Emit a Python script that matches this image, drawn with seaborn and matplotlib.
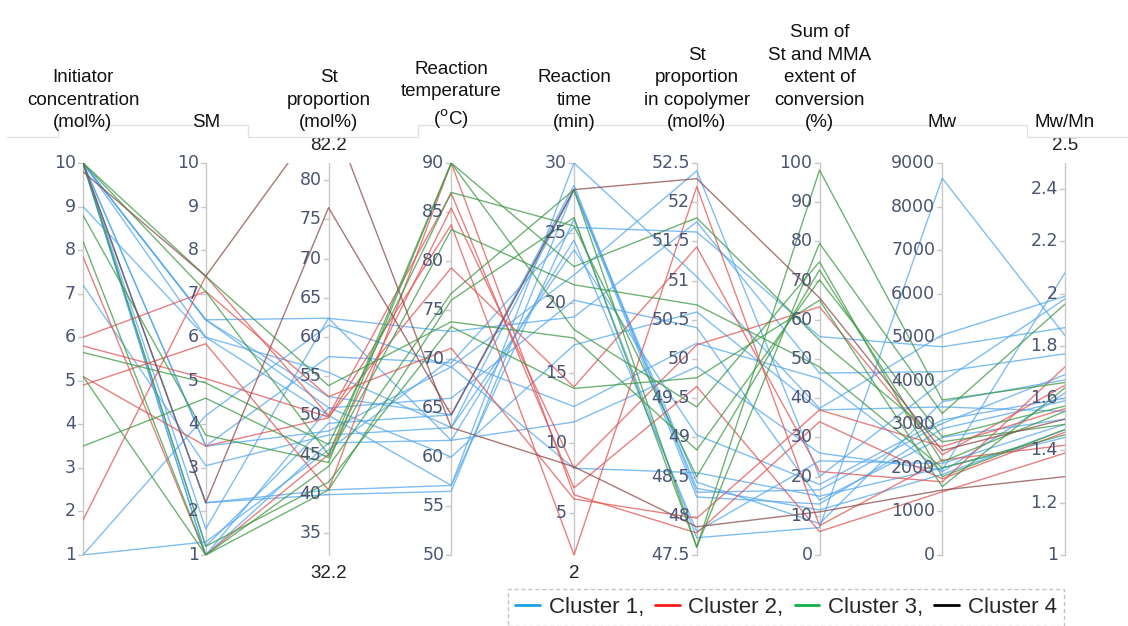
import numpy as np
import pandas as pd
import matplotlib
matplotlib.use("Agg")
import matplotlib.pyplot as plt
import seaborn as sns
from matplotlib.lines import Line2D

# axis definitions
axis_names = [
    "Initiator\nconcentration\n(mol%)",
    "SM",
    "St\nproportion\n(mol%)",
    "Reaction\ntemperature\n($^{\\mathrm{o}}$C)",
    "Reaction\ntime\n(min)",
    "St\nproportion\nin copolymer\n(mol%)",
    "Sum of\nSt and MMA\nextent of\nconversion\n(%)",
    "Mw",
    "Mw/Mn",
]
axis_min = [1, 1, 32.2, 50, 2, 47.5, 0, 0, 1]
axis_max = [10, 10, 82.2, 90, 30, 52.5, 100, 9000, 2.5]
axis_ticks = [
    [1, 2, 3, 4, 5, 6, 7, 8, 9, 10],
    [1, 2, 3, 4, 5, 6, 7, 8, 9, 10],
    [35, 40, 45, 50, 55, 60, 65, 70, 75, 80],
    [50, 55, 60, 65, 70, 75, 80, 85, 90],
    [5, 10, 15, 20, 25, 30],
    [47.5, 48, 48.5, 49, 49.5, 50, 50.5, 51, 51.5, 52, 52.5],
    [0, 10, 20, 30, 40, 50, 60, 70, 80, 90, 100],
    [0, 1000, 2000, 3000, 4000, 5000, 6000, 7000, 8000, 9000],
    [1, 1.2, 1.4, 1.6, 1.8, 2, 2.2, 2.4],
]
# range labels printed in black at the ends of some axes
end_labels = [(2, "top", "82.2"), (2, "bottom", "32.2"), (4, "bottom", "2"), (8, "top", "2.5")]

cluster = [1] * 16 + [2] * 6 + [3] * 8 + [4] * 2
initiator = [10, 10, 9.0, 10, 7.2, 10, 10, 1.0, 1.0, 10, 10, 10, 10, 10, 10, 10,
             7.85, 6.0, 5.8, 5.1, 4.9, 1.8,
             8.8, 8.2, 5.65, 5.1, 3.5, 10, 10, 10,
             9.8, 10]
sm = [6.4, 6.4, 6.0, 3.5, 3.05, 2.2, 1.6, 4.2, 1.3, 1.0, 1.2, 2.2, 6.0, 3.5, 1.0, 6.4,
      1.0, 7.05, 5.05, 3.5, 5.85, 7.4,
      3.75, 1.0, 4.95, 1.0, 4.6, 7.4, 7.05, 1.2,
      7.4, 2.2]
st_prop = [62.4, 52.4, 50.0, 57.5, 47.5, 39.9, 62.4, 61.5, 45.6, 50.95, 49.0, 40.5, 55.5, 48.0, 46.5, 51.0,
           45.0, 52.4, 49.8, 49.7, 40.5, 50.0,
           44.0, 43.5, 46.3, 40.5, 44.6, 53.8, 45.0, 41.5,
           89.3, 76.5]
temperature = [72.8, 64.3, 57.1, 69.6, 63.0, 56.5, 61.7, 69.2, 70.0, 66.0, 64.3, 57.1, 63.0, 69.2, 61.7, 60.0,
               85.4, 71.1, 79.3, 83.7, 90.0, 86.9,
               90.0, 76.7, 87.0, 76.0, 83.2, 73.8, 90.0, 73.3,
               63.0, 64.3]
time = [19.0, 28.4, 30.0, 25.4, 28.1, 28.1, 11.5, 22.0, 12.6, 20.2, 28.1, 26.0, 23.8, 8.2, 24.5, 17.0,
        8.2, 6.0, 14.0, 2.0, 6.3, 6.8,
        22.6, 28.1, 25.5, 26.1, 21.3, 17.5, 18.1, 13.9,
        8.3, 28.1]
st_copolymer = [51.75, 48.3, 51.05, 51.62, 48.24, 48.43, 49.9, 52.4, 50.2, 50.4, 48.35, 47.72, 49.03, 48.55, 47.8, 50.6,
                50.18, 47.97, 51.43, 52.2, 47.78, 49.65,
                51.8, 47.6, 48.5, 47.6, 50.69, 48.84, 49.39, 49.76,
                47.86, 52.3]
conversion = [46.4, 16.6, 37.4, 55.7, 13.0, 8.0, 26.0, 20.0, 45.0, 14.0, 11.5, 7.0, 18.0, 15.0, 24.0, 37.0,
              63.3, 37.0, 21.3, 7.5, 34.0, 6.0,
              54.8, 98.2, 72.7, 79.5, 48.0, 70.2, 74.8, 65.0,
              11.0, 65.6]
mw = [4210, 3020, 5050, 4780, 2900, 3520, 1950, 3980, 1910, 2700, 1850, 8650, 3100, 2000, 2100, 3400,
      2300, 2490, 1680, 2180, 1750, 1450,
      2600, 3560, 2140, 3250, 2000, 2715, 1800, 1570,
      1490, 2400]
mw_mn = [1.77, 1.69, 1.99, 1.87, 1.59, 1.67, 2.08, 1.98, 1.62, 1.52, 1.48, 1.84, 1.60, 1.45, 1.50, 1.55,
         1.65, 1.56, 1.72, 1.42, 1.47, 1.39,
         1.50, 1.66, 1.55, 1.96, 1.46, 1.57, 1.48, 1.64,
         1.30, 1.52]

line_colors = {1: "#55a8ee", 2: "#e05555", 3: "#3f9a45", 4: "#8c4a4a"}
legend_colors = ["#1aa3e8", "#ff1a1a", "#12b04a", "#000000"]
legend_labels = ["Cluster 1,", "Cluster 2,", "Cluster 3,", "Cluster 4"]

columns = [initiator, sm, st_prop, temperature, time, st_copolymer, conversion, mw, mw_mn]

# long table: one row per (experiment, axis) with the value scaled to that axis
rows = []
for j, col in enumerate(columns):
    for i, v in enumerate(col):
        rows.append({
            "id": i,
            "cluster": cluster[i],
            "axis": j,
            "scaled": (v - axis_min[j]) / (axis_max[j] - axis_min[j]),
        })
long = pd.DataFrame(rows)

sns.set_style("white")
W, H = 1128, 626
fig = plt.figure(figsize=(W / 100, H / 100), dpi=100)
x0, x1, ytop, ybot = 83, 1065, 163, 555
ax = fig.add_axes([x0 / W, 1 - ybot / H, (x1 - x0) / W, (ybot - ytop) / H])

sns.lineplot(
    data=long, x="axis", y="scaled", hue="cluster", units="id", estimator=None,
    palette=line_colors, linewidth=1.0, alpha=0.75, legend=False, ax=ax,
)
ax.set_xlim(0, 8)
ax.set_ylim(0, 1)
ax.axis("off")

tick_font = {"family": "DejaVu Sans", "size": 12.5, "color": "#4b5573"}
px = 8 / (x1 - x0)  # data units per pixel horizontally
for j in range(9):
    ax.plot([j, j], [0, 1], color="#c8c8c8", lw=1.0, clip_on=False, zorder=0)
    lo, hi = axis_min[j], axis_max[j]
    for t in axis_ticks[j]:
        yn = (t - lo) / (hi - lo)
        ax.plot([j - 5 * px, j], [yn, yn], color="#c8c8c8", lw=1.0, clip_on=False, zorder=0)
        ax.text(j - 7 * px, yn, f"{t:g}", ha="right", va="center", **tick_font)

for j, where, lab in end_labels:
    yy = 1 + 18 / (ybot - ytop) if where == "top" else -18 / (ybot - ytop)
    ax.text(j, yy, lab, ha="center", va="center", family="Liberation Sans", size=13.5, color="#222222")

# headers above each axis
for j, name in enumerate(axis_names):
    xf = (x0 + j * (x1 - x0) / 8) / W
    fig.text(xf, 1 - 131 / H, name, ha="center", va="bottom", family="Liberation Sans",
             size=13.5, color="#111111", linespacing=1.42, multialignment="center")

# faint header cell borders
border = [(7, 137), (58, 137), (58, 125), (248, 125), (248, 137), (418, 137),
          (418, 125), (1027, 125), (1027, 137), (1128, 137)]
bx = [p[0] / W for p in border]
by = [1 - p[1] / H for p in border]
fig.add_artist(Line2D(bx, by, color="#e2e2e2", lw=1.0, transform=fig.transFigure))

handles = [Line2D([0], [0], color=c, lw=2) for c in legend_colors]
leg = fig.legend(
    handles, legend_labels, loc="upper center", bbox_to_anchor=(786 / W, 1 - 578 / H),
    ncol=4, frameon=True, fancybox=False, prop={"family": "Liberation Sans", "size": 16},
    handlelength=1.1, handletextpad=0.4, columnspacing=0.5, borderpad=0.35,
)
frame = leg.get_frame()
frame.set_linestyle((0, (3, 2)))
frame.set_edgecolor("#b5b5b5")
frame.set_linewidth(1.0)

fig.savefig("out.png", dpi=100, facecolor="white")
